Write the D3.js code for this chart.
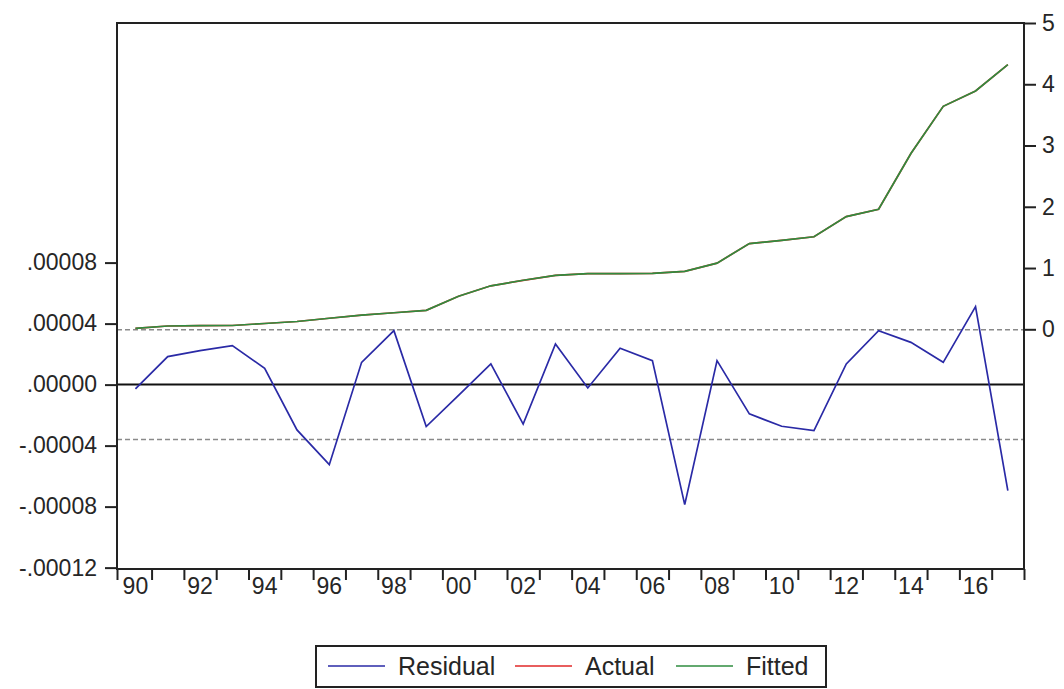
<!DOCTYPE html>
<html>
<head>
<meta charset="utf-8">
<script src="https://cdn.jsdelivr.net/npm/d3@7/dist/d3.min.js"></script>
<style>
  body { margin: 0; background: #ffffff; }
  svg text { font-family: "Liberation Sans", Arial, sans-serif; fill: #262626; }
</style>
</head>
<body>
<svg id="chart" width="1064" height="689"></svg>
<script>
// Annual observations, 1990-2017
const years = [1990, 1991, 1992, 1993, 1994, 1995, 1996, 1997, 1998, 1999,
               2000, 2001, 2002, 2003, 2004, 2005, 2006, 2007, 2008, 2009,
               2010, 2011, 2012, 2013, 2014, 2015, 2016, 2017];

// Regression residuals (left axis)
const residual = [-0.0000028, 0.0000184, 0.0000223, 0.0000256, 0.0000107, -0.0000297,
                  -0.0000525, 0.0000146, 0.0000354, -0.0000275, -0.0000070, 0.0000136,
                  -0.0000259, 0.0000267, -0.0000022, 0.0000238, 0.0000157, -0.0000787,
                  0.0000157, -0.0000192, -0.0000273, -0.0000302, 0.0000136, 0.0000354,
                  0.0000277, 0.0000146, 0.0000511, -0.0000695];

// Dependent variable (right axis)
const actual = [0.0159972, 0.0540184, 0.0590223, 0.0620256, 0.0950107, 0.1269703,
                0.1799475, 0.2300146, 0.2700354, 0.3099725, 0.5399930, 0.7100136,
                0.7999741, 0.8800267, 0.9099978, 0.9100238, 0.9130157, 0.9459213,
                1.0800157, 1.3999808, 1.4499727, 1.5099698, 1.8400136, 1.9600354,
                2.8700277, 3.6400146, 3.8900511, 4.3199305];

// Fitted values (right axis)
const fitted = [0.016, 0.054, 0.059, 0.062, 0.095, 0.127, 0.180, 0.230, 0.270, 0.310,
                0.540, 0.710, 0.800, 0.880, 0.910, 0.910, 0.913, 0.946, 1.080, 1.400,
                1.450, 1.510, 1.840, 1.960, 2.870, 3.640, 3.890, 4.320];

// Standard error of the regression (dashed band)
const stdErr = 0.000036;

// Axis ticks and labels
const leftTicks = [-0.00012, -0.00008, -0.00004, 0, 0.00004, 0.00008];
const leftLabels = ["-.00012", "-.00008", "-.00004", ".00000", ".00004", ".00008"];
const rightTicks = [0, 1, 2, 3, 4, 5];
const rightLabels = ["0", "1", "2", "3", "4", "5"];
const labelYears = [1990, 1992, 1994, 1996, 1998, 2000, 2002, 2004, 2006, 2008, 2010, 2012, 2014, 2016];
const yearLabels = ["90", "92", "94", "96", "98", "00", "02", "04", "06", "08", "10", "12", "14", "16"];

const seriesNames = ["Residual", "Actual", "Fitted"];
const seriesColors = ["#2a2aa6", "#e02828", "#2f8c3f"];

// Plot frame
const frame = { left: 117, right: 1024, top: 23, bottom: 569 };
const tickFont = 23;
const legendFont = 25;

const svg = d3.select("#chart");

const x = d3.scaleLinear().domain([1989.43, 2017.5]).range([frame.left, frame.right]);
const yLeft = d3.scaleLinear().domain([-0.0001209, 0.0002371]).range([frame.bottom, frame.top]);
const yRight = d3.scaleLinear().domain([-3.913, 5]).range([frame.bottom, frame.top]);

// Reference lines: zero and +/- one standard error
const g = svg.append("g");
[stdErr, -stdErr].forEach(v => {
  g.append("line")
    .attr("x1", frame.left).attr("x2", frame.right)
    .attr("y1", yLeft(v)).attr("y2", yLeft(v))
    .attr("stroke", "#8a8a8a").attr("stroke-width", 1.5)
    .attr("stroke-dasharray", "5,3");
});
g.append("line")
  .attr("x1", frame.left).attr("x2", frame.right)
  .attr("y1", yLeft(0)).attr("y2", yLeft(0))
  .attr("stroke", "#111").attr("stroke-width", 2);

// Series lines
const residLine = d3.line().x((d, i) => x(years[i])).y(d => yLeft(d));
const rightLine = d3.line().x((d, i) => x(years[i])).y(d => yRight(d));

svg.append("path").datum(residual)
  .attr("d", residLine).attr("fill", "none")
  .attr("stroke", seriesColors[0]).attr("stroke-width", 1.7);
svg.append("path").datum(actual)
  .attr("d", rightLine).attr("fill", "none")
  .attr("stroke", seriesColors[1]).attr("stroke-width", 1.7);
svg.append("path").datum(fitted)
  .attr("d", rightLine).attr("fill", "none")
  .attr("stroke", seriesColors[2]).attr("stroke-width", 1.7);

// Frame
svg.append("rect")
  .attr("x", frame.left).attr("y", frame.top)
  .attr("width", frame.right - frame.left).attr("height", frame.bottom - frame.top)
  .attr("fill", "none").attr("stroke", "#222").attr("stroke-width", 2);

// Left axis
const leftAxis = d3.axisLeft(yLeft)
  .tickValues(leftTicks)
  .tickFormat((d, i) => leftLabels[i])
  .tickSizeInner(12).tickSizeOuter(0).tickPadding(8);
const gl = svg.append("g").attr("transform", `translate(${frame.left},0)`).call(leftAxis);
gl.select(".domain").remove();

// Right axis
const rightAxis = d3.axisRight(yRight)
  .tickValues(rightTicks)
  .tickFormat((d, i) => rightLabels[i])
  .tickSizeInner(12).tickSizeOuter(0).tickPadding(6);
const gr = svg.append("g").attr("transform", `translate(${frame.right},0)`).call(rightAxis);
gr.select(".domain").remove();

// Bottom axis: tick marks between years, labels on every other year
const bottomTicks = [x.domain()[0]].concat(years.slice(0, -1).map(yv => yv + 0.5), [x.domain()[1]]);
const bottomAxis = d3.axisBottom(x)
  .tickValues(bottomTicks)
  .tickFormat("")
  .tickSizeInner(11).tickSizeOuter(0);
const gb = svg.append("g").attr("transform", `translate(0,${frame.bottom})`).call(bottomAxis);
gb.select(".domain").remove();

svg.selectAll(".tick line").attr("stroke", "#222").attr("stroke-width", 2);
svg.selectAll(".tick text").attr("font-size", tickFont).attr("fill", "#262626")
  .style("font-family", "'Liberation Sans', Arial, sans-serif");

svg.append("g").selectAll("text")
  .data(labelYears)
  .join("text")
  .attr("x", d => x(d))
  .attr("y", 594)
  .attr("text-anchor", "middle")
  .attr("font-size", tickFont)
  .text((d, i) => yearLabels[i]);

// Legend
const legend = svg.append("g");
legend.append("rect")
  .attr("x", 316).attr("y", 646).attr("width", 510).attr("height", 41)
  .attr("fill", "#fff").attr("stroke", "#222").attr("stroke-width", 2);
const itemX = [328, 515, 676];
seriesNames.forEach((name, i) => {
  legend.append("line")
    .attr("x1", itemX[i]).attr("x2", itemX[i] + 57)
    .attr("y1", 666).attr("y2", 666)
    .attr("stroke", seriesColors[i]).attr("stroke-width", 1.7);
  legend.append("text")
    .attr("x", itemX[i] + 70).attr("y", 675)
    .attr("font-size", legendFont)
    .text(name);
});
</script>
</body>
</html>
